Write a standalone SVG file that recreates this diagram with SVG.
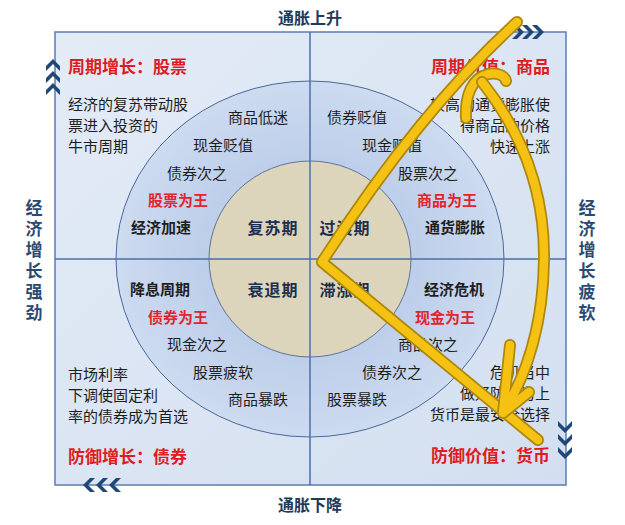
<svg xmlns="http://www.w3.org/2000/svg" width="625" height="525" viewBox="0 0 625 525">
<defs>
<linearGradient id="bg" x1="0" y1="0" x2="1" y2="1">
<stop offset="0" stop-color="#e3ebf6"/>
<stop offset="1" stop-color="#d3dff0"/>
</linearGradient>
<radialGradient id="mid" cx="0.5" cy="0.5" r="0.5">
<stop offset="0.5" stop-color="#bccdea"/>
<stop offset="1" stop-color="#cddbf0"/>
</radialGradient>
<path id="chev" d="M-6,-7 L-1,-7 L6,0 L-1,7 L-6,7 L1,0 Z" fill="#1f4877"/>
<style>
text{font-family:"Noto Sans CJK SC","Noto Sans",sans-serif;}
.axis{font-size:16px;font-weight:bold;fill:#23395a;}
.side{font-size:17px;font-weight:bold;fill:#2b4a72;writing-mode:vertical-rl;letter-spacing:4px;}
.title{font-size:17px;font-weight:bold;fill:#e01b22;}
.desc{font-size:15px;fill:#1e1e1e;}
.ring{font-size:15px;fill:#1e1e1e;text-anchor:middle;}
.king{font-size:15px;font-weight:bold;fill:#e3242b;text-anchor:middle;}
.phase{font-size:15px;font-weight:bold;fill:#1e1e1e;text-anchor:middle;}
.core{font-size:16px;fill:#1c2f4f;text-anchor:middle;letter-spacing:1px;font-weight:bold;}
.yo{fill:none;stroke:#ad870c;stroke-width:12;stroke-linecap:round;stroke-linejoin:round;}
.yi{fill:none;stroke:#f5c214;stroke-width:8.5;stroke-linecap:round;stroke-linejoin:round;}
</style>
</defs>
<rect width="625" height="525" fill="#ffffff"/>
<g id="frame">
<rect x="55" y="32" width="511" height="453" fill="url(#bg)" stroke="#5a7db0" stroke-width="1.5"/>
<ellipse cx="310" cy="259" rx="194" ry="178" fill="url(#mid)" stroke="#4a6898" stroke-width="1"/>
<ellipse cx="310" cy="259" rx="101" ry="98" fill="#dcd5bb" stroke="#5f7393" stroke-width="1"/>
<line x1="310" y1="32" x2="310" y2="485" stroke="#4a6fa5" stroke-width="1.5"/>
<line x1="55" y1="259" x2="566" y2="259" stroke="#4a6fa5" stroke-width="1.5"/>
</g>
<g id="axes">
<text class="axis" x="310" y="24" text-anchor="middle">通胀上升</text>
<text class="axis" x="310" y="511" text-anchor="middle">通胀下降</text>
<text class="side" x="34" y="199">经济增长强劲</text>
<text class="side" x="587" y="199">经济增长疲软</text>
</g>
<g id="chevrons">
<use href="#chev" transform="translate(53,65) rotate(-90)"/>
<use href="#chev" transform="translate(53,77) rotate(-90)"/>
<use href="#chev" transform="translate(53,89) rotate(-90)"/>
<use href="#chev" transform="translate(518,32)"/>
<use href="#chev" transform="translate(528,32)"/>
<use href="#chev" transform="translate(538,32)"/>
<use href="#chev" transform="translate(565,427) rotate(90)"/>
<use href="#chev" transform="translate(565,440) rotate(90)"/>
<use href="#chev" transform="translate(565,453) rotate(90)"/>
<use href="#chev" transform="translate(89,485) rotate(180)"/>
<use href="#chev" transform="translate(102,485) rotate(180)"/>
<use href="#chev" transform="translate(115,485) rotate(180)"/>
</g>
<g id="q-tl">
<text class="title" x="68" y="73">周期增长：股票</text>
<text class="desc" x="68" y="110">经济的复苏带动股</text>
<text class="desc" x="68" y="131">票进入投资的</text>
<text class="desc" x="68" y="152">牛市周期</text>
<text class="ring" x="258" y="123">商品低迷</text>
<text class="ring" x="223" y="151">现金贬值</text>
<text class="ring" x="197" y="179">债券次之</text>
<text class="king" x="178" y="206">股票为王</text>
<text class="phase" x="161" y="233">经济加速</text>
<text class="core" x="273" y="234">复苏期</text>
</g>
<g id="q-tr">
<text class="title" x="550" y="73" text-anchor="end">周期价值：商品</text>
<text class="desc" x="550" y="110" text-anchor="end">较高的通货膨胀使</text>
<text class="desc" x="550" y="131" text-anchor="end">得商品的价格</text>
<text class="desc" x="550" y="152" text-anchor="end">快速上涨</text>
<text class="ring" x="357" y="123">债券贬值</text>
<text class="ring" x="392" y="151">现金贬值</text>
<text class="ring" x="428" y="179">股票次之</text>
<text class="king" x="447" y="206">商品为王</text>
<text class="phase" x="455" y="233">通货膨胀</text>
<text class="core" x="345" y="234">过渡期</text>
</g>
<g id="q-bl">
<text class="title" x="68" y="463">防御增长：债券</text>
<text class="desc" x="68" y="380">市场利率</text>
<text class="desc" x="68" y="401">下调使固定利</text>
<text class="desc" x="68" y="422">率的债券成为首选</text>
<text class="phase" x="160" y="295">降息周期</text>
<text class="king" x="178" y="323">债券为王</text>
<text class="ring" x="197" y="350">现金次之</text>
<text class="ring" x="223" y="378">股票疲软</text>
<text class="ring" x="258" y="405">商品暴跌</text>
<text class="core" x="273" y="296">衰退期</text>
</g>
<g id="q-br">
<text class="title" x="550" y="462" text-anchor="end">防御价值：货币</text>
<text class="desc" x="550" y="378" text-anchor="end">危机当中</text>
<text class="desc" x="550" y="399" text-anchor="end">做好防御为上</text>
<text class="desc" x="550" y="420" text-anchor="end">货币是最安全选择</text>
<text class="phase" x="454" y="295">经济危机</text>
<text class="king" x="445" y="323">现金为王</text>
<text class="ring" x="428" y="350">商品次之</text>
<text class="ring" x="392" y="378">债券次之</text>
<text class="ring" x="357" y="405">股票暴跌</text>
<text class="core" x="345" y="296">滞涨期</text>
</g>
<g id="connectors">
<path class="yo" d="M517,22 Q420,110 322,262 L538,440"/>
<path class="yi" d="M517,22 Q420,110 322,262 L538,440"/>
<path class="yo" d="M466,118 C465,95 472,78 488,74 C498,72 505,76 506,81"/>
<path class="yi" d="M466,118 C465,95 472,78 488,74 C498,72 505,76 506,81"/>
<path class="yo" d="M482,82 C520,130 545,190 544,260 C543,320 530,370 503,413 M503,413 L510,345 M503,413 L529,392"/>
<path class="yi" d="M482,82 C520,130 545,190 544,260 C543,320 530,370 503,413 M503,413 L510,345 M503,413 L529,392"/>
</g>
</svg>
